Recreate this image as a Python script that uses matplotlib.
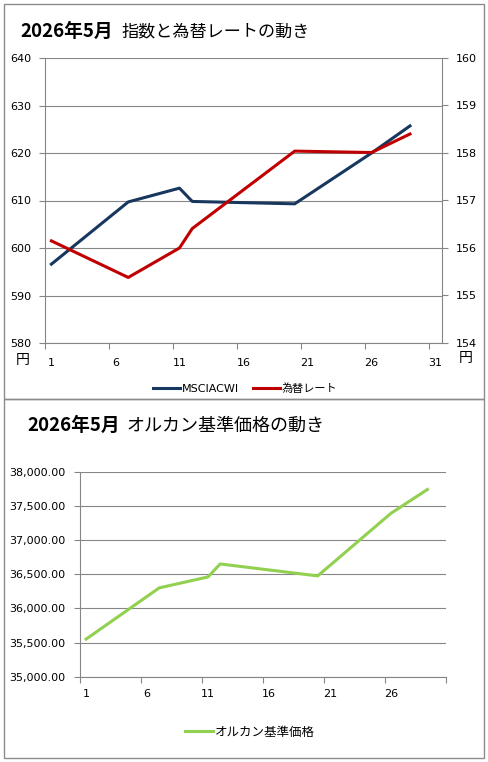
import matplotlib
matplotlib.use("Agg")
import matplotlib.pyplot as plt
from matplotlib.patches import Rectangle
from matplotlib.lines import Line2D
from matplotlib.ticker import FixedLocator, FuncFormatter, NullFormatter

# ---------------- data ----------------
days = [1, 7, 11, 12, 20, 26, 29]
msci = [596.6, 609.7, 612.6, 609.8, 609.3, 620.0, 625.7]
fx_rate = [156.15, 155.38, 156.0, 156.41, 158.04, 158.01, 158.4]
orukan = [35550, 36300, 36460, 36650, 36475, 37390, 37740]

left_ticks = [580, 590, 600, 610, 620, 630, 640]
right_ticks = [154, 155, 156, 157, 158, 159, 160]
x_labels_top = [1, 6, 11, 16, 21, 26, 31]
x_labels_bottom = [1, 6, 11, 16, 21, 26]
orukan_ticks = [35000, 35500, 36000, 36500, 37000, 37500, 38000]

title1_bold = "2026年5月"
title1_rest = "指数と為替レートの動き"
title2_rest = "オルカン基準価格の動き"
series_names = ["MSCIACWI", "為替レート", "オルカン基準価格"]

# ---------------- style ----------------
W, H = 489, 762
GRAY = "#868686"
BORDER = "#8c8c8c"
BLUE = "#17375E"
RED = "#C00000"
GREEN = "#92D050"
JP = ["Noto Sans CJK JP", "DejaVu Sans"]
LAT = ["DejaVu Sans", "Noto Sans CJK JP"]

fig = plt.figure(figsize=(W / 100, H / 100), dpi=100)


def fx(x):
    return x / W


def fy(y):
    return 1 - y / H


# outer borders
for (x0, y0, x1, y1) in [(4, 4, 484, 399), (4, 399, 484, 758)]:
    fig.patches.append(Rectangle((fx(x0), fy(y1)), fx(x1 - x0), (y1 - y0) / H,
                                 transform=fig.transFigure, fill=False,
                                 edgecolor=BORDER, lw=1.0))


def style_x(ax, nmax, labels):
    ax.xaxis.set_major_locator(FixedLocator([v - 0.5 for v in range(1, nmax + 1, 5)]))
    ax.xaxis.set_major_formatter(NullFormatter())
    ax.xaxis.set_minor_locator(FixedLocator(labels))
    ax.xaxis.set_minor_formatter(FuncFormatter(lambda v, p: f"{int(v)}"))
    ax.tick_params(axis="x", which="major", length=4, width=0.8, color=GRAY, direction="out")
    ax.tick_params(axis="x", which="minor", length=0, labelsize=8, labelcolor="black")


# ---------------- top chart ----------------
ax1 = fig.add_axes([fx(45), fy(343), (442 - 45) / W, (343 - 58) / H])
ax1.set_xlim(0.5, 31.5)
ax1.set_ylim(580, 640)
ax1.set_yticks(left_ticks)
ax1.yaxis.grid(True, color=GRAY, lw=0.8)
ax1.set_axisbelow(True)
for s in ["top", "right"]:
    ax1.spines[s].set_visible(False)
for s in ["left", "bottom"]:
    ax1.spines[s].set_color(GRAY)
    ax1.spines[s].set_linewidth(0.8)
ax1.tick_params(axis="y", length=4, width=0.8, color=GRAY, labelsize=8, pad=6)
style_x(ax1, 31, x_labels_top)
ax1.tick_params(axis="x", which="minor", pad=10.5)
ax1.plot(days, msci, color=BLUE, lw=2.2, solid_joinstyle="round")

ax1r = ax1.twinx()
ax1r.set_ylim(154, 160)
ax1r.set_yticks(right_ticks)
for s in ["top", "left", "bottom"]:
    ax1r.spines[s].set_visible(False)
ax1r.spines["right"].set_color(GRAY)
ax1r.spines["right"].set_linewidth(0.8)
ax1r.tick_params(axis="y", length=4, width=0.8, color=GRAY, labelsize=8, pad=6)
ax1r.plot(days, fx_rate, color=RED, lw=2.2, solid_joinstyle="round")

fig.text(fx(23), fy(360), "円", family=JP, fontsize=10, ha="center", va="center")
fig.text(fx(466), fy(358), "円", family=JP, fontsize=10, ha="center", va="center")

h1 = [Line2D([], [], color=BLUE, lw=2.2), Line2D([], [], color=RED, lw=2.2)]
fig.legend(h1, series_names[:2], loc="center", bbox_to_anchor=(fx(245), fy(389)),
           ncol=2, frameon=False, handlelength=2.4, handletextpad=0.15,
           columnspacing=1.3, prop={"family": LAT, "size": 8})

# ---------------- bottom chart ----------------
ax2 = fig.add_axes([fx(80), fy(676.7), (445.7 - 80) / W, (676.7 - 471.7) / H])
ax2.set_xlim(0.5, 30.5)
ax2.set_ylim(35000, 38000)
ax2.set_yticks(orukan_ticks)
ax2.yaxis.set_major_formatter(FuncFormatter(lambda v, p: f"{v:,.2f}"))
ax2.yaxis.grid(True, color=GRAY, lw=0.8)
ax2.set_axisbelow(True)
for s in ["top", "right"]:
    ax2.spines[s].set_visible(False)
for s in ["left", "bottom"]:
    ax2.spines[s].set_color(GRAY)
    ax2.spines[s].set_linewidth(0.8)
ax2.tick_params(axis="y", length=4, width=0.8, color=GRAY, labelsize=8, pad=6.5)
style_x(ax2, 31, x_labels_bottom)
ax2.tick_params(axis="x", which="minor", pad=9)
ax2.plot(days, orukan, color=GREEN, lw=2.2, solid_joinstyle="round")

h2 = [Line2D([], [], color=GREEN, lw=2.2)]
fig.legend(h2, series_names[2:], loc="center", bbox_to_anchor=(fx(250), fy(732)),
           ncol=1, frameon=False, handlelength=2.2, handletextpad=0.15,
           prop={"family": JP, "size": 9})

# ---------------- titles ----------------
t1 = fig.text(fx(20), fy(36.7), title1_bold, family=JP, fontweight="bold",
              fontsize=13.5, va="baseline")
t2 = fig.text(fx(27), fy(431), title1_bold, family=JP, fontweight="bold",
              fontsize=13.5, va="baseline")
fig.canvas.draw()
r = fig.canvas.get_renderer()
b1 = t1.get_window_extent(r)
b2 = t2.get_window_extent(r)
fig.text((b1.x1 + 9) / W, fy(36.7), title1_rest, family=JP, fontsize=12.3, va="baseline")
fig.text((b2.x1 + 7) / W, fy(431), title2_rest, family=JP, fontsize=13, va="baseline")

fig.savefig("out.png", dpi=100)
